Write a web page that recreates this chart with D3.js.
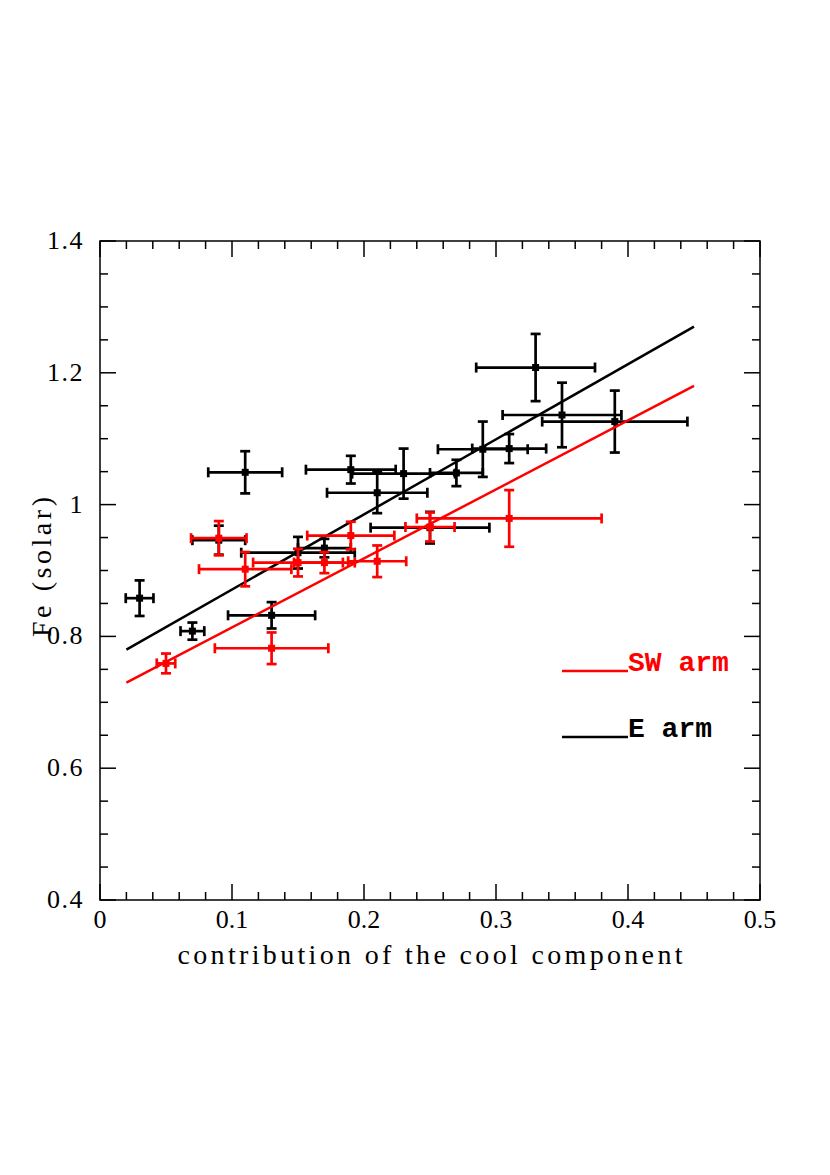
<!DOCTYPE html>
<html>
<head>
<meta charset="utf-8">
<script src="https://cdn.jsdelivr.net/npm/d3@7"></script>
<style>
  body { margin: 0; background: #fff; }
  svg { display: block; }
  .ticklab { font-family: "Liberation Serif", "DejaVu Serif", serif; font-size: 26px; fill: #000; }
  .title { font-family: "Liberation Serif", "DejaVu Serif", serif; font-size: 28px; fill: #000; }
  .leg { font-family: "Liberation Mono", "DejaVu Sans Mono", monospace; font-size: 28px; font-weight: bold; }
</style>
</head>
<body>
<div id="chart"></div>
<script>
// E arm (black): x, Fe, x error, Fe error
var e_x  = [0.03, 0.07, 0.09, 0.11, 0.13, 0.15, 0.17, 0.19, 0.21, 0.23, 0.25, 0.27, 0.29, 0.31, 0.33, 0.35, 0.39];
var e_y  = [0.858, 0.808, 0.946, 1.049, 0.832, 0.927, 0.934, 1.053, 1.018, 1.047, 0.965, 1.048, 1.084, 1.085, 1.208, 1.136, 1.126];
var e_xe = [0.0105, 0.009, 0.02, 0.028, 0.033, 0.043, 0.02, 0.034, 0.038, 0.039, 0.045, 0.02, 0.034, 0.028, 0.045, 0.045, 0.055];
var e_ye = [0.027, 0.013, 0.022, 0.032, 0.020, 0.024, 0.014, 0.021, 0.031, 0.038, 0.024, 0.020, 0.042, 0.022, 0.051, 0.049, 0.047];

// SW arm (red)
var sw_x  = [0.05, 0.09, 0.11, 0.13, 0.15, 0.17, 0.19, 0.21, 0.25, 0.31];
var sw_y  = [0.759, 0.949, 0.902, 0.782, 0.912, 0.912, 0.953, 0.914, 0.966, 0.979];
var sw_xe = [0.007, 0.021, 0.035, 0.043, 0.034, 0.023, 0.033, 0.022, 0.0186, 0.07];
var sw_ye = [0.015, 0.026, 0.026, 0.024, 0.021, 0.016, 0.021, 0.024, 0.022, 0.043];

// linear fits, given by their end points
var fit_x  = [0.02, 0.45];
var e_fit  = [0.78, 1.27];
var sw_fit = [0.73, 1.18];

var x_ticks = [0, 0.1, 0.2, 0.3, 0.4, 0.5];
var x_labels = ["0", "0.1", "0.2", "0.3", "0.4", "0.5"];
var y_ticks = [0.4, 0.6, 0.8, 1.0, 1.2, 1.4];
var y_labels = ["0.4", "0.6", "0.8", "1", "1.2", "1.4"];

var W = 830, H = 1175;
var margin = {top: 241, left: 100, right: 70, bottom: 275};
var pw = W - margin.left - margin.right;   // 660
var ph = H - margin.top - margin.bottom;   // 659

var svg = d3.select("#chart").append("svg")
    .attr("width", W)
    .attr("height", H);

var xscale = d3.scaleLinear().domain([0, 0.5]).range([0, pw]);
var yscale = d3.scaleLinear().domain([0.4, 1.4]).range([ph, 0]);

var g = svg.append("g")
    .attr("transform", "translate(" + margin.left + "," + margin.top + ")");

// frame
g.append("rect")
    .attr("width", pw)
    .attr("height", ph)
    .attr("fill", "none")
    .attr("stroke", "#000")
    .attr("stroke-width", 1.5);

// inward ticks on all four sides
var xminor = d3.range(0, 0.5001, 0.02);
var yminor = d3.range(0.4, 1.4001, 0.05);

function isMajor(v, step) {
    return Math.abs(v / step - Math.round(v / step)) < 1e-6;
}

var tickG = g.append("g").attr("stroke", "#000").attr("stroke-width", 1.5);
xminor.forEach(function(v) {
    var len = isMajor(v, 0.1) ? 16 : 8;
    var px = xscale(v);
    tickG.append("line").attr("x1", px).attr("x2", px).attr("y1", ph).attr("y2", ph - len);
    tickG.append("line").attr("x1", px).attr("x2", px).attr("y1", 0).attr("y2", len);
});
yminor.forEach(function(v) {
    var len = isMajor(v - 0.4, 0.2) ? 16 : 8;
    var py = yscale(v);
    tickG.append("line").attr("x1", 0).attr("x2", len).attr("y1", py).attr("y2", py);
    tickG.append("line").attr("x1", pw).attr("x2", pw - len).attr("y1", py).attr("y2", py);
});

// tick labels
g.selectAll(".xlab")
    .data(x_ticks)
    .enter()
    .append("text")
    .attr("class", "ticklab")
    .attr("x", function(d) { return xscale(d); })
    .attr("y", ph + 28)
    .attr("text-anchor", "middle")
    .text(function(d, i) { return x_labels[i]; });

g.selectAll(".ylab")
    .data(y_ticks)
    .enter()
    .append("text")
    .attr("class", "ticklab")
    .attr("x", -16)
    .attr("y", function(d) { return yscale(d) + 8; })
    .attr("text-anchor", "end")
    .attr("letter-spacing", 1.5)
    .text(function(d, i) { return y_labels[i]; });

// axis titles
svg.append("text")
    .attr("class", "title")
    .attr("x", 430)
    .attr("y", 964)
    .attr("text-anchor", "middle")
    .attr("textLength", 505)
    .attr("lengthAdjust", "spacing")
    .text("contribution of the cool component");

svg.append("text")
    .attr("class", "title")
    .attr("transform", "translate(51,567) rotate(-90)")
    .attr("text-anchor", "middle")
    .attr("textLength", 140)
    .attr("lengthAdjust", "spacing")
    .text("Fe (solar)");

// fit lines
function drawFit(yv, color) {
    g.append("line")
        .attr("x1", xscale(fit_x[0])).attr("y1", yscale(yv[0]))
        .attr("x2", xscale(fit_x[1])).attr("y2", yscale(yv[1]))
        .attr("stroke", color)
        .attr("stroke-width", 2.5);
}

// error bars with caps and a square marker
function drawSeries(xs, ys, xes, yes, color) {
    var cap = 5;
    var pts = xs.map(function(d, i) { return {x: d, y: ys[i], xe: xes[i], ye: yes[i]}; });
    var s = g.append("g").attr("stroke", color).attr("stroke-width", 2.7).attr("fill", color);
    var p = s.selectAll(".pt").data(pts).enter().append("g").attr("class", "pt");
    p.append("line")
        .attr("x1", function(d) { return xscale(d.x - d.xe); })
        .attr("x2", function(d) { return xscale(d.x + d.xe); })
        .attr("y1", function(d) { return yscale(d.y); })
        .attr("y2", function(d) { return yscale(d.y); });
    p.append("line")
        .attr("x1", function(d) { return xscale(d.x); })
        .attr("x2", function(d) { return xscale(d.x); })
        .attr("y1", function(d) { return yscale(d.y - d.ye); })
        .attr("y2", function(d) { return yscale(d.y + d.ye); });
    [-1, 1].forEach(function(sgn) {
        p.append("line")
            .attr("x1", function(d) { return xscale(d.x + sgn * d.xe); })
            .attr("x2", function(d) { return xscale(d.x + sgn * d.xe); })
            .attr("y1", function(d) { return yscale(d.y) - cap; })
            .attr("y2", function(d) { return yscale(d.y) + cap; });
        p.append("line")
            .attr("x1", function(d) { return xscale(d.x) - cap; })
            .attr("x2", function(d) { return xscale(d.x) + cap; })
            .attr("y1", function(d) { return yscale(d.y + sgn * d.ye); })
            .attr("y2", function(d) { return yscale(d.y + sgn * d.ye); });
    });
    p.append("rect")
        .attr("x", function(d) { return xscale(d.x) - 3.5; })
        .attr("y", function(d) { return yscale(d.y) - 3.5; })
        .attr("width", 7)
        .attr("height", 7)
        .attr("stroke", "none");
}

drawSeries(e_x, e_y, e_xe, e_ye, "#000");
drawFit(e_fit, "#000");
drawSeries(sw_x, sw_y, sw_xe, sw_ye, "#ff0000");
drawFit(sw_fit, "#ff0000");

// legend
var legend = [
    {label: "SW arm", color: "#ff0000", y: 671},
    {label: "E arm", color: "#000", y: 737}
];
legend.forEach(function(l) {
    svg.append("line")
        .attr("x1", 562).attr("x2", 628)
        .attr("y1", l.y).attr("y2", l.y)
        .attr("stroke", l.color)
        .attr("stroke-width", 2.5);
    svg.append("text")
        .attr("class", "leg")
        .attr("x", 628)
        .attr("y", l.y)
        .attr("fill", l.color)
        .text(l.label);
});
</script>
</body>
</html>
